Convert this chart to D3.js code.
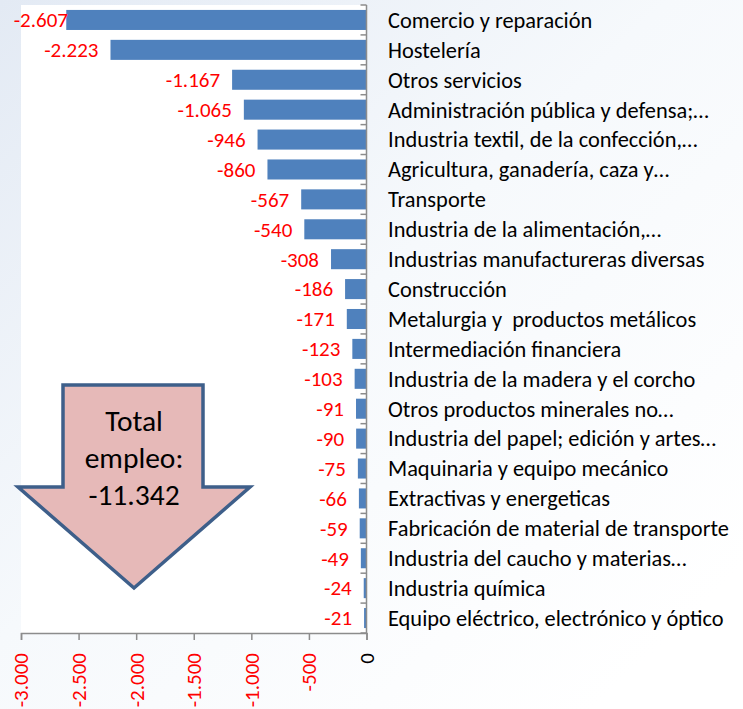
<!DOCTYPE html>
<html>
<head>
<meta charset="utf-8">
<script src="https://cdn.jsdelivr.net/npm/d3@7"></script>
<style>
  body { margin: 0; background: #fff; }
  svg text { font-family: Carlito, Lato, "Open Sans", sans-serif; }
</style>
</head>
<body>
<div id="chart"></div>
<script>
var canvasWidth = 743;
var canvasHeight = 709;

/*Chart data*/
var sectors = [
  "Comercio y reparación",
  "Hostelería",
  "Otros servicios",
  "Administración pública y defensa;…",
  "Industria textil, de la confección,…",
  "Agricultura, ganadería, caza y…",
  "Transporte",
  "Industria de la alimentación,…",
  "Industrias manufactureras diversas",
  "Construcción",
  "Metalurgia y  productos metálicos",
  "Intermediación financiera",
  "Industria de la madera y el corcho",
  "Otros productos minerales no…",
  "Industria del papel; edición y artes…",
  "Maquinaria y equipo mecánico",
  "Extractivas y energeticas",
  "Fabricación de material de transporte",
  "Industria del caucho y materias…",
  "Industria química",
  "Equipo eléctrico, electrónico y óptico"
];
var empleo = [-2607, -2223, -1167, -1065, -946, -860, -567, -540, -308, -186,
  -171, -123, -103, -91, -90, -75, -66, -59, -49, -24, -21];
var xTicks = [-3000, -2500, -2000, -1500, -1000, -500, 0];
var totalLines = ["Total", "empleo:", "-11.342"];

var data = sectors.map(function (s, i) { return {sector: s, value: empleo[i]}; });

/*Spanish number format, plain hyphen as minus*/
var es = d3.formatLocale({decimal: ",", thousands: ".", grouping: [3], currency: ["", " €"], minus: "-"});
var fmt = es.format(",d");

var svg = d3.select("#chart").append("svg")
    .attr("width", canvasWidth)
    .attr("height", canvasHeight);

/*Background gradient*/
var defs = svg.append("defs");
var grad = defs.append("linearGradient")
    .attr("id", "bg")
    .attr("x1", "0").attr("y1", "0")
    .attr("x2", "0.9").attr("y2", "0.9");
grad.append("stop").attr("offset", "0").attr("stop-color", "#e3eaf4");
grad.append("stop").attr("offset", "0.5").attr("stop-color", "#f6f9fc");
grad.append("stop").attr("offset", "1").attr("stop-color", "#ffffff");

svg.append("rect")
    .attr("width", canvasWidth)
    .attr("height", canvasHeight)
    .attr("fill", "url(#bg)");

/*Plot area*/
var plotLeft = 21, plotRight = 366.5, plotTop = 5, plotBottom = 633;

var xScale = d3.scaleLinear().domain([-3000, 0]).range([plotLeft, plotRight]);
var yScale = d3.scaleBand().domain(sectors).range([plotTop, plotBottom]).paddingInner(0.33).paddingOuter(0.165);

svg.append("rect")
    .attr("x", plotLeft)
    .attr("y", plotTop)
    .attr("width", plotRight - plotLeft)
    .attr("height", plotBottom - plotTop)
    .attr("fill", "#ffffff");

/*Bars*/
svg.append("g").selectAll("rect")
    .data(data)
    .join("rect")
    .attr("x", function (d) { return xScale(d.value); })
    .attr("y", function (d) { return yScale(d.sector); })
    .attr("width", function (d) { return xScale(0) - xScale(d.value); })
    .attr("height", yScale.bandwidth())
    .attr("fill", "#4f81bd");

/*Value labels*/
svg.append("g").selectAll("text")
    .data(data)
    .join("text")
    .attr("x", function (d) { return Math.max(xScale(d.value) - 12, 68); })
    .attr("y", function (d) { return yScale(d.sector) + yScale.bandwidth() / 2; })
    .attr("dy", "0.35em")
    .attr("text-anchor", "end")
    .attr("fill", "#ff0000")
    .attr("font-size", 21)
    .text(function (d) { return fmt(d.value); });

/*Category axis at zero*/
var step = yScale.step();
var cat = svg.append("g");
cat.append("line")
    .attr("x1", xScale(0)).attr("x2", xScale(0))
    .attr("y1", plotTop).attr("y2", plotBottom)
    .attr("stroke", "#8c8c8c").attr("stroke-width", 1.5);
cat.selectAll(".tick")
    .data(d3.range(sectors.length + 1))
    .join("line")
    .attr("x1", xScale(0) - 6).attr("x2", xScale(0))
    .attr("y1", function (i) { return plotTop + i * step; })
    .attr("y2", function (i) { return plotTop + i * step; })
    .attr("stroke", "#8c8c8c").attr("stroke-width", 1.5);
cat.selectAll("text")
    .data(sectors)
    .join("text")
    .attr("x", 388)
    .attr("y", function (d) { return yScale(d) + yScale.bandwidth() / 2; })
    .attr("dy", "0.35em")
    .attr("fill", "#000")
    .attr("font-size", 22.4)
    .style("white-space", "pre")
    .text(function (d) { return d; });

/*Value axis*/
var xAxis = svg.append("g")
    .attr("transform", "translate(0," + plotBottom + ")")
    .call(d3.axisBottom(xScale).tickValues(xTicks).tickSize(7).tickFormat(""));
xAxis.select(".domain").attr("stroke", "#8c8c8c").attr("stroke-width", 1.5);
xAxis.selectAll(".tick line").attr("stroke", "#8c8c8c").attr("stroke-width", 1.5);

svg.append("g").selectAll("text")
    .data(xTicks)
    .join("text")
    .attr("transform", function (d) { return "translate(" + xScale(d) + ",653) rotate(-90)"; })
    .attr("dy", "0.35em")
    .attr("text-anchor", "end")
    .attr("font-size", 21)
    .attr("fill", function (d) { return d === 0 ? "#000" : "#ff0000"; })
    .text(function (d) { return fmt(d); });

/*Total arrow*/
var arrowPts = [[63, 385], [203, 385], [203, 487], [250, 487], [134, 588], [18, 487], [63, 487]];
svg.append("polygon")
    .attr("points", arrowPts.map(function (p) { return p.join(","); }).join(" "))
    .attr("fill", "#e6b9b8")
    .attr("stroke", "#3e5f8a")
    .attr("stroke-width", 3.5)
    .attr("stroke-linejoin", "miter");

svg.append("g").selectAll("text")
    .data(totalLines)
    .join("text")
    .attr("x", 134)
    .attr("y", function (d, i) { return 421 + i * 37; })
    .attr("dy", "0.35em")
    .attr("text-anchor", "middle")
    .attr("font-size", 29.5)
    .attr("fill", "#000")
    .text(function (d) { return d; });
</script>
</body>
</html>
